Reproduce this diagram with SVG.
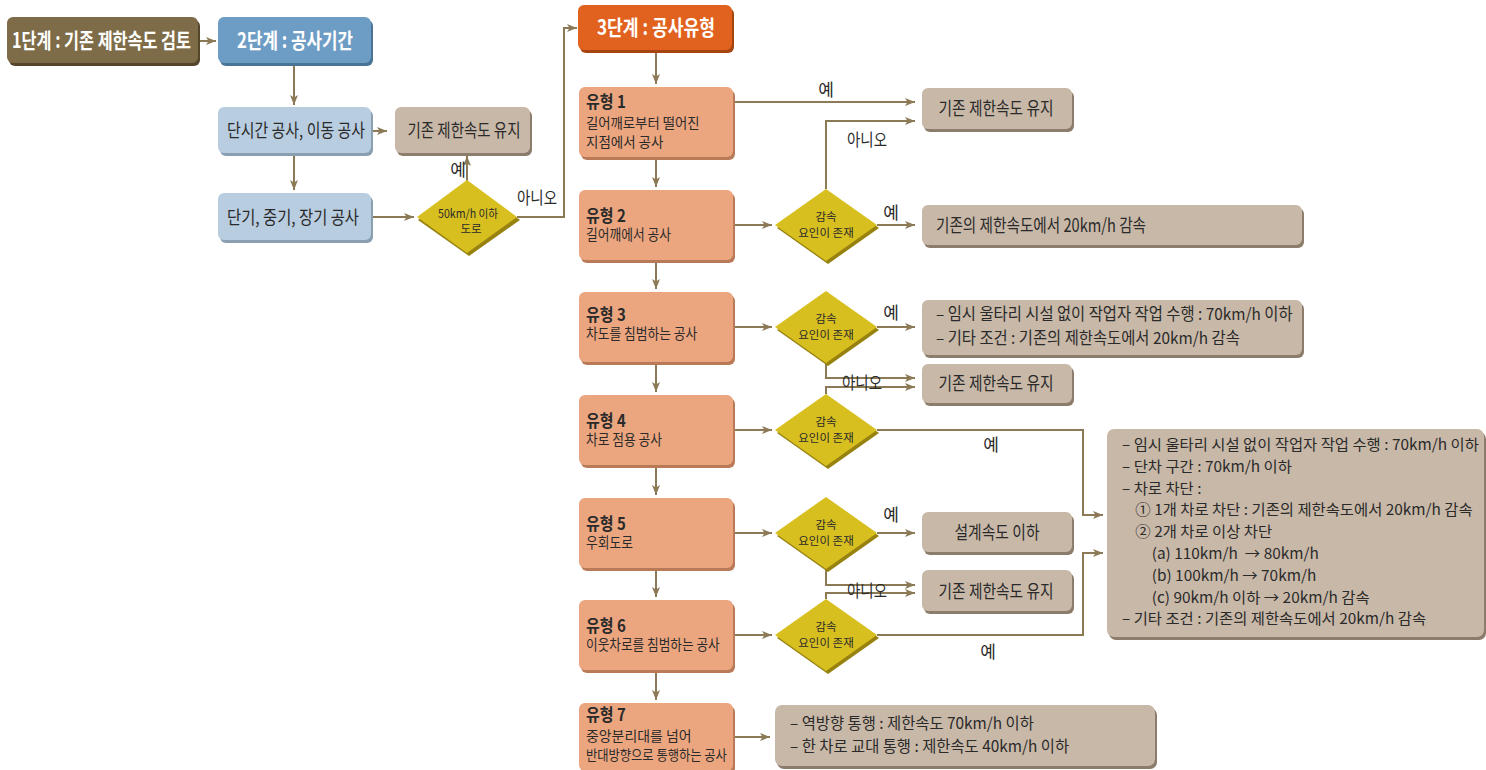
<svg xmlns="http://www.w3.org/2000/svg" width="1486" height="770" viewBox="0 0 1486 770">
<defs>
<marker id="ah" viewBox="0 0 10 8" refX="10" refY="4" markerWidth="10" markerHeight="8" markerUnits="userSpaceOnUse" orient="auto">
<path d="M0,0 L10,4 L0,8 L2.5,4 z" fill="#8b7a55"/>
</marker>
<style>
text{font-family:"Noto Sans CJK KR","Noto Sans",sans-serif;fill:#2a2a2a}
.w{fill:#ffffff;font-weight:bold;font-size:21px}
.m{font-size:18.5px}
.s3{font-size:16.5px}
.s4{font-size:15px}
.s7{font-size:15.8px}
.t{font-size:17px;font-weight:bold}
.u{font-size:14.5px;font-weight:normal}
.v{font-size:13.5px;font-weight:normal}
.d{font-size:11.5px}
.l{font-size:17px}
.c{fill:none;stroke:#8b7a55;stroke-width:2;marker-end:url(#ah)}
.b1{fill:#7e6c48}.b1s{fill:#54452b}
.b2{fill:#6d9cc4}.b2s{fill:#4a7496}
.lb{fill:#b9cde0}.lbs{fill:#8a9fb2}
.tn{fill:#c8b8a8}.tns{fill:#8c7c6b}
.or{fill:#e1621e}.ors{fill:#a5440f}
.sa{fill:#eca67f}.sas{fill:#b97b57}
.dm{fill:#d8bf20}.dms{fill:#978210}
</style>
</defs>

<g id="connectors">
<path class="c" d="M198,41 H216"/>
<path class="c" d="M294,63 V105"/>
<path class="c" d="M371,131 H387"/>
<path class="c" d="M294,153 V190"/>
<path class="c" d="M371,217 H414"/>
<path class="c" d="M467,181 V156"/>
<path class="c" d="M517,217 H564 V28 H577"/>
<path class="c" d="M656,50 V84"/>
<path class="c" d="M656,157 V187"/>
<path class="c" d="M656,260 V289"/>
<path class="c" d="M656,362 V392"/>
<path class="c" d="M656,465 V495"/>
<path class="c" d="M656,568 V597"/>
<path class="c" d="M656,670 V700"/>
<path class="c" d="M733,102 H915"/>
<path class="c" d="M826,189 V121 H915"/>
<path class="c" d="M733,225 H772"/>
<path class="c" d="M877,225 H915"/>
<path class="c" d="M733,327 H772"/>
<path class="c" d="M877,327 H915"/>
<path class="c" d="M826,363 V378 H915"/>
<path class="c" d="M826,394 V387 H915"/>
<path class="c" d="M733,430 H772"/>
<path class="c" d="M877,430 H1083 V515 H1103"/>
<path class="c" d="M733,533 H772"/>
<path class="c" d="M877,533 H915"/>
<path class="c" d="M826,569 V585 H915"/>
<path class="c" d="M826,599 V593 H915"/>
<path class="c" d="M733,635 H772"/>
<path class="c" d="M877,635 H1083 V553 H1103"/>
<path class="c" d="M733,737 H770"/>
</g>

<g id="step1">
<rect class="b1s" x="9" y="20" width="191" height="46" rx="6"/>
<rect class="b1" x="7" y="17" width="191" height="46" rx="6"/>
<text class="w" x="12" y="48" textLength="179" lengthAdjust="spacingAndGlyphs">1단계 : 기존 제한속도 검토</text>
</g>
<g id="step2">
<rect class="b2s" x="220" y="20" width="153" height="46" rx="6"/>
<rect class="b2" x="218" y="17" width="153" height="46" rx="6"/>
<text class="w" x="295" y="48" text-anchor="middle" textLength="116" lengthAdjust="spacingAndGlyphs">2단계 : 공사기간</text>
</g>
<g id="short">
<rect class="lbs" x="220" y="110" width="153" height="46" rx="6"/>
<rect class="lb" x="218" y="107" width="153" height="46" rx="6"/>
<text class="m" x="296" y="137" text-anchor="middle" textLength="138" lengthAdjust="spacingAndGlyphs">단시간 공사, 이동 공사</text>
</g>
<g id="keep0">
<rect class="tns" x="397" y="110" width="135" height="46" rx="6"/>
<rect class="tn" x="395" y="107" width="135" height="46" rx="6"/>
<text class="m" x="464" y="137" text-anchor="middle" textLength="113" lengthAdjust="spacingAndGlyphs">기존 제한속도 유지</text>
</g>
<g id="long">
<rect class="lbs" x="220" y="196" width="153" height="47" rx="6"/>
<rect class="lb" x="218" y="193" width="153" height="47" rx="6"/>
<text class="m" x="293" y="224" text-anchor="middle" textLength="132" lengthAdjust="spacingAndGlyphs">단기, 중기, 장기 공사</text>
</g>
<g id="d1">
<polygon class="dms" points="469,183 520,220 469,256 418,220"/>
<polygon class="dm" points="467,180 517,217 467,253 417,217"/>
<text class="d" x="468" y="218" text-anchor="middle"><tspan textLength="60" lengthAdjust="spacingAndGlyphs">50km/h 이하</tspan><tspan x="471" dy="15">도로</tspan></text>
<text class="l" x="458" y="176" text-anchor="middle">예</text>
<text class="l" x="537" y="204" text-anchor="middle" textLength="40" lengthAdjust="spacingAndGlyphs">아니오</text>
</g>

<g id="step3">
<rect class="ors" x="580" y="8" width="154" height="45" rx="6"/>
<rect class="or" x="578" y="5" width="154" height="45" rx="6"/>
<text class="w" x="656" y="35" text-anchor="middle" textLength="118" lengthAdjust="spacingAndGlyphs">3단계 : 공사유형</text>
</g>

<g id="type1">
<rect class="sas" x="581" y="90" width="154" height="70" rx="6"/>
<rect class="sa" x="579" y="87" width="154" height="70" rx="6"/>
<text class="t" transform="matrix(0.88,0,0,1,70.32,0)" x="586" y="108">유형 1<tspan class="v" x="586" dy="19.6" textLength="129" lengthAdjust="spacingAndGlyphs">길어깨로부터 떨어진</tspan><tspan class="v" x="586" dy="19.6" textLength="88" lengthAdjust="spacingAndGlyphs">지점에서 공사</tspan></text>
</g>
<g id="type2">
<rect class="sas" x="581" y="193" width="154" height="70" rx="6"/>
<rect class="sa" x="579" y="190" width="154" height="70" rx="6"/>
<text class="t" transform="matrix(0.88,0,0,1,70.32,0)" x="586" y="222">유형 2<tspan class="u" x="586" dy="18">길어깨에서 공사</tspan></text>
</g>
<g id="type3">
<rect class="sas" x="581" y="295" width="154" height="70" rx="6"/>
<rect class="sa" x="579" y="292" width="154" height="70" rx="6"/>
<text class="t" transform="matrix(0.88,0,0,1,70.32,0)" x="586" y="321">유형 3<tspan class="u" x="586" dy="18">차도를 침범하는 공사</tspan></text>
</g>
<g id="type4">
<rect class="sas" x="581" y="398" width="154" height="70" rx="6"/>
<rect class="sa" x="579" y="395" width="154" height="70" rx="6"/>
<text class="t" transform="matrix(0.88,0,0,1,70.32,0)" x="586" y="427">유형 4<tspan class="u" x="586" dy="18">차로 점용 공사</tspan></text>
</g>
<g id="type5">
<rect class="sas" x="581" y="501" width="154" height="70" rx="6"/>
<rect class="sa" x="579" y="498" width="154" height="70" rx="6"/>
<text class="t" transform="matrix(0.88,0,0,1,70.32,0)" x="586" y="530">유형 5<tspan class="u" x="586" dy="18">우회도로</tspan></text>
</g>
<g id="type6">
<rect class="sas" x="581" y="603" width="154" height="70" rx="6"/>
<rect class="sa" x="579" y="600" width="154" height="70" rx="6"/>
<text class="t" transform="matrix(0.88,0,0,1,70.32,0)" x="586" y="632">유형 6<tspan class="u" x="586" dy="18" textLength="152" lengthAdjust="spacingAndGlyphs">이웃차로를 침범하는 공사</tspan></text>
</g>
<g id="type7">
<rect class="sas" x="581" y="706" width="154" height="68" rx="6"/>
<rect class="sa" x="579" y="703" width="154" height="68" rx="6"/>
<text class="t" transform="matrix(0.88,0,0,1,70.32,0)" x="586" y="721">유형 7<tspan class="v" x="586" dy="19.6" textLength="120" lengthAdjust="spacingAndGlyphs">중앙분리대를 넘어</tspan><tspan class="v" x="586" dy="19.6" textLength="160" lengthAdjust="spacingAndGlyphs">반대방향으로 통행하는 공사</tspan></text>
</g>

<g id="d2">
<polygon class="dms" points="828,192 879,228 828,264 777,228"/>
<polygon class="dm" points="826,189 877,225 826,261 775,225"/>
<text class="d" x="826" y="221" text-anchor="middle">감속<tspan x="826" dy="16">요인이 존재</tspan></text>
</g>
<g id="d3">
<polygon class="dms" points="828,294 879,330 828,366 777,330"/>
<polygon class="dm" points="826,291 877,327 826,363 775,327"/>
<text class="d" x="826" y="323" text-anchor="middle">감속<tspan x="826" dy="16">요인이 존재</tspan></text>
</g>
<g id="d4">
<polygon class="dms" points="828,397 879,433 828,469 777,433"/>
<polygon class="dm" points="826,394 877,430 826,466 775,430"/>
<text class="d" x="826" y="426" text-anchor="middle">감속<tspan x="826" dy="16">요인이 존재</tspan></text>
</g>
<g id="d5">
<polygon class="dms" points="828,500 879,536 828,572 777,536"/>
<polygon class="dm" points="826,497 877,533 826,569 775,533"/>
<text class="d" x="826" y="529" text-anchor="middle">감속<tspan x="826" dy="16">요인이 존재</tspan></text>
</g>
<g id="d6">
<polygon class="dms" points="828,602 879,638 828,674 777,638"/>
<polygon class="dm" points="826,599 877,635 826,671 775,635"/>
<text class="d" x="826" y="631" text-anchor="middle">감속<tspan x="826" dy="16">요인이 존재</tspan></text>
</g>

<g id="labels">
<text class="l" x="826" y="96" text-anchor="middle">예</text>
<text class="l" x="867" y="146" text-anchor="middle" textLength="40" lengthAdjust="spacingAndGlyphs">아니오</text>
<text class="l" x="891" y="219" text-anchor="middle">예</text>
<text class="l" x="891" y="319" text-anchor="middle">예</text>
<text class="l" x="862" y="389" text-anchor="middle" textLength="40" lengthAdjust="spacingAndGlyphs">아니오</text>
<text class="l" x="991" y="451" text-anchor="middle">예</text>
<text class="l" x="891" y="521" text-anchor="middle">예</text>
<text class="l" x="867" y="597" text-anchor="middle" textLength="40" lengthAdjust="spacingAndGlyphs">아니오</text>
<text class="l" x="988" y="658" text-anchor="middle">예</text>
</g>

<g id="keep1">
<rect class="tns" x="924" y="91" width="150" height="41" rx="6"/>
<rect class="tn" x="922" y="88" width="150" height="41" rx="6"/>
<text class="m" x="996" y="115" text-anchor="middle" textLength="115" lengthAdjust="spacingAndGlyphs">기존 제한속도 유지</text>
</g>
<g id="r2">
<rect class="tns" x="924" y="208" width="380" height="40" rx="6"/>
<rect class="tn" x="922" y="205" width="380" height="40" rx="6"/>
<text class="m" x="936" y="232" textLength="210" lengthAdjust="spacingAndGlyphs">기존의 제한속도에서 20km/h 감속</text>
</g>
<g id="r3">
<rect class="tns" x="924" y="303" width="380" height="55" rx="6"/>
<rect class="tn" x="922" y="300" width="380" height="55" rx="6"/>
<text class="s3" transform="matrix(0.932,0,0,1,63.65,0)" x="936" y="320">– 임시 울타리 시설 없이 작업자 작업 수행 : 70km/h 이하<tspan x="936" dy="24">– 기타 조건 : 기존의 제한속도에서 20km/h 감속</tspan></text>
</g>
<g id="keep2">
<rect class="tns" x="924" y="367" width="150" height="39" rx="6"/>
<rect class="tn" x="922" y="364" width="150" height="39" rx="6"/>
<text class="m" x="996" y="390" text-anchor="middle" textLength="115" lengthAdjust="spacingAndGlyphs">기존 제한속도 유지</text>
</g>
<g id="r4">
<rect class="tns" x="1109" y="432" width="377" height="208" rx="7"/>
<rect class="tn" x="1107" y="429" width="377" height="208" rx="7"/>
<text class="s4" transform="matrix(1.026,0,0,1,-29.17,0)" x="1122" y="450" xml:space="preserve">– 임시 울타리 시설 없이 작업자 작업 수행 : 70km/h 이하<tspan x="1122" dy="21.8">– 단차 구간 : 70km/h 이하</tspan><tspan x="1122" dy="21.8">– 차로 차단 :</tspan><tspan x="1135" dy="21.8">① 1개 차로 차단 : 기존의 제한속도에서 20km/h 감속</tspan><tspan x="1135" dy="21.8">② 2개 차로 이상 차단</tspan><tspan x="1151" dy="21.8">(a) 110km/h  → 80km/h</tspan><tspan x="1151" dy="21.8">(b) 100km/h → 70km/h</tspan><tspan x="1151" dy="21.8">(c) 90km/h 이하 → 20km/h 감속</tspan><tspan x="1122" dy="21.8">– 기타 조건 : 기존의 제한속도에서 20km/h 감속</tspan></text>
</g>
<g id="r5">
<rect class="tns" x="924" y="515" width="150" height="40" rx="6"/>
<rect class="tn" x="922" y="512" width="150" height="40" rx="6"/>
<text class="m" x="997" y="539" text-anchor="middle" textLength="85" lengthAdjust="spacingAndGlyphs">설계속도 이하</text>
</g>
<g id="keep3">
<rect class="tns" x="924" y="573" width="150" height="41" rx="6"/>
<rect class="tn" x="922" y="570" width="150" height="41" rx="6"/>
<text class="m" x="996" y="598" text-anchor="middle" textLength="115" lengthAdjust="spacingAndGlyphs">기존 제한속도 유지</text>
</g>
<g id="r7">
<rect class="tns" x="777" y="708" width="380" height="61" rx="7"/>
<rect class="tn" x="775" y="705" width="380" height="61" rx="7"/>
<text class="s7" transform="matrix(0.974,0,0,1,20.54,0)" x="790" y="729">– 역방향 통행 : 제한속도 70km/h 이하<tspan x="790" dy="23">– 한 차로 교대 통행 : 제한속도 40km/h 이하</tspan></text>
</g>
</svg>
